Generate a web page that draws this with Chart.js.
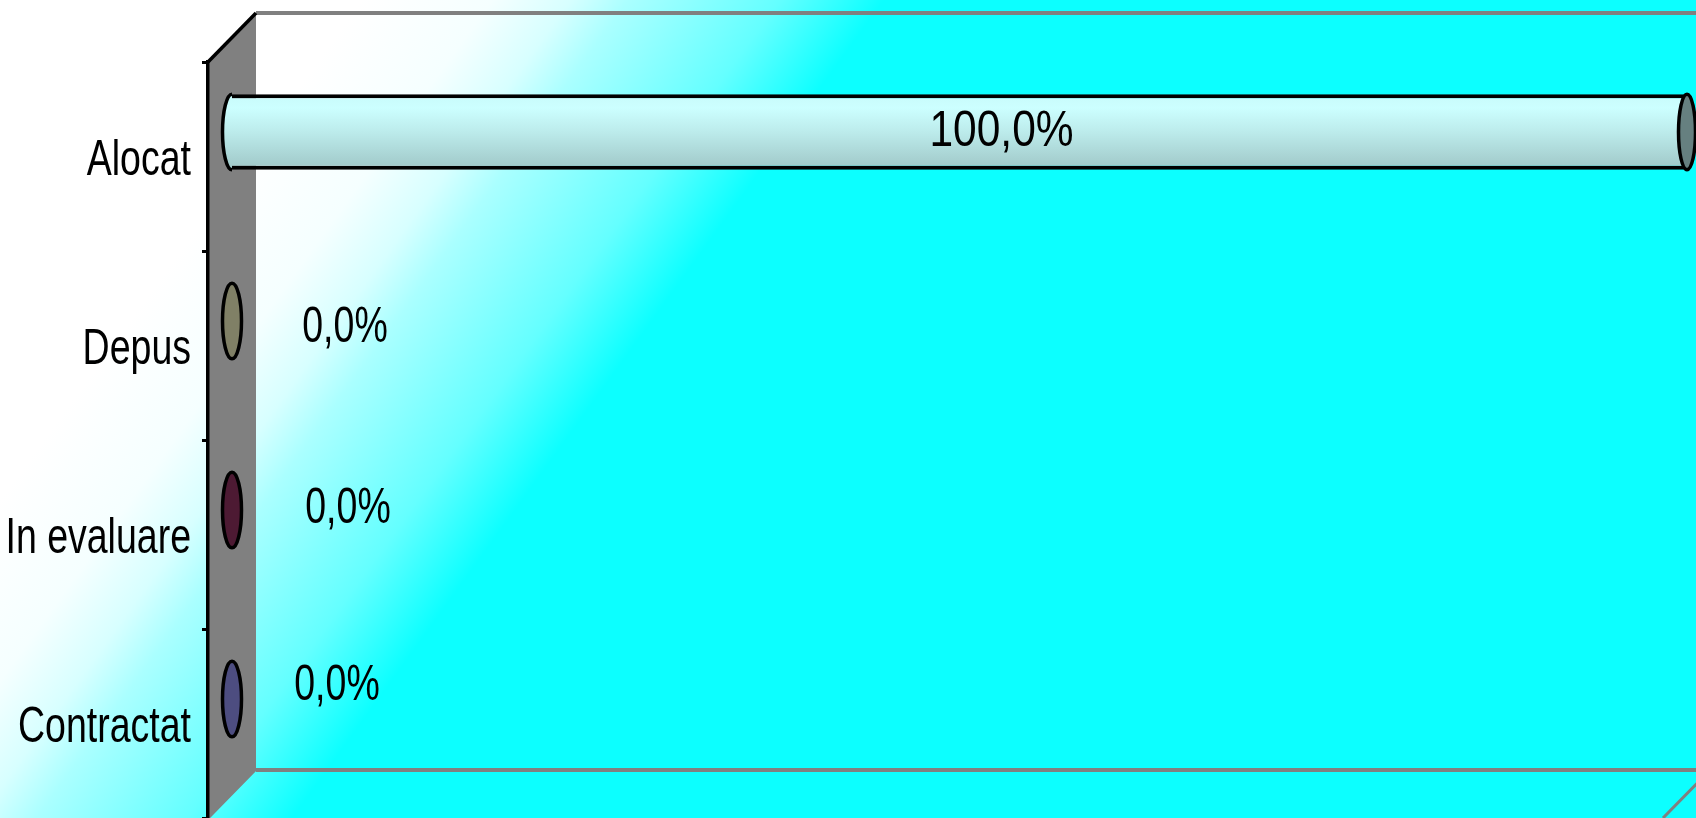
<!DOCTYPE html>
<html>
<head>
<meta charset="utf-8">
<script src="https://cdn.jsdelivr.net/npm/chart.js@4.4.1/dist/chart.umd.min.js"></script>
<style>
  html, body { margin: 0; padding: 0; background: #fff; }
  canvas { display: block; }
</style>
</head>
<body>
<canvas id="c" width="1696" height="818"></canvas>
<script>
// ---- data ----
const categories = ['Alocat', 'Depus', 'In evaluare', 'Contractat'];
const values = [100, 0, 0, 0];
const xMin = 0;
const xMax = 100;

// ---- style ----
const FONT = "'Liberation Sans', Arial, sans-serif";
const FONT_SIZE = 50;
const NARROW = 0.75;          // horizontal squeeze to mimic Arial Narrow
const NARROW_BIG = 0.85;
const bodyColors = ['#ccffff', '#ffffcc', '#993366', '#9999ff'];
const capColors = ['#668080', '#808066', '#4d1a33', '#4d4d80'];
const DEPTH_X = 48, DEPTH_Y = -49;       // 3D depth of the box
const MID_X = DEPTH_X / 2, MID_Y = DEPTH_Y / 2;
const TICK_LEN = 6, TICK_PAD = 11;
const TICK_LABEL_SHIFT = 5;
const labelNudgeY = [0, 7, -1, -13];
const labelNudgeX = [42, 113, 116, 105];

function fmt(v) { return v.toFixed(1).replace('.', ',') + '%'; }

function hexToRgb(h) {
  const n = parseInt(h.slice(1), 16);
  return [(n >> 16) & 255, (n >> 8) & 255, n & 255];
}
function shade(rgb, f) {
  return 'rgb(' + rgb.map(c => Math.round(Math.min(255, c * f))).join(',') + ')';
}

function bodyFill(c) {
  const i = c.dataIndex;
  if (i === undefined) return bodyColors[0];
  const ch = c.chart;
  const ys = ch.scales && ch.scales.y;
  if (!ys || !ch.chartArea) return bodyColors[i];
  const yc = ys.getPixelForValue(i);
  const h = (ys.height / categories.length) * 0.4 / 2;
  const rgb = hexToRgb(bodyColors[i]);
  const g = ch.ctx.createLinearGradient(0, yc - h, 0, yc + h);
  g.addColorStop(0, shade(rgb, 0.98));
  g.addColorStop(0.18, shade(rgb, 1.0));
  g.addColorStop(0.5, shade(rgb, 0.92));
  g.addColorStop(1, shade(rgb, 0.78));
  return g;
}

const boxPlugin = {
  id: 'box3d',
  afterLayout(chart) {
    const s = chart.scales.y;
    if (s && !s._narrowed) {
      const orig = s.drawLabels;
      s._computeLabelArea = function () { return undefined; };
      s.drawLabels = function (area) {
        const ctx = this.ctx;
        const ax = this.right - TICK_LEN - TICK_PAD;
        ctx.save();
        ctx.translate(ax, TICK_LABEL_SHIFT);
        ctx.scale(NARROW, 1);
        ctx.translate(-ax, 0);
        orig.call(this, area);
        ctx.restore();
      };
      s._narrowed = true;
    }
  },
  beforeDraw(chart) {
    const ctx = chart.ctx;
    const a = chart.chartArea;
    const W = chart.width, H = chart.height;
    ctx.save();
    // background gradient (white top-left -> cyan)
    const g = ctx.createLinearGradient(238, 171, 581, 419);
    g.addColorStop(0, '#ffffff');
    g.addColorStop(0.25, 'rgb(245,255,255)');
    g.addColorStop(0.40, 'rgb(215,255,255)');
    g.addColorStop(0.51, 'rgb(170,255,255)');
    g.addColorStop(0.80, 'rgb(100,255,255)');
    g.addColorStop(1, 'rgb(12,255,255)');
    ctx.fillStyle = g;
    ctx.fillRect(0, 0, W, H);

    const bl = a.left + DEPTH_X, bt = a.top + DEPTH_Y, br = a.right + DEPTH_X, bb = a.bottom + DEPTH_Y;
    // side wall
    ctx.fillStyle = '#808080';
    ctx.beginPath();
    ctx.moveTo(a.left, a.top);
    ctx.lineTo(bl, bt);
    ctx.lineTo(bl, bb);
    ctx.lineTo(a.left, a.bottom);
    ctx.closePath();
    ctx.fill();
    // back wall top edge & floor back edge
    ctx.strokeStyle = '#808080';
    ctx.lineWidth = 4;
    ctx.beginPath();
    ctx.moveTo(bl, bt); ctx.lineTo(br + 10, bt);
    ctx.moveTo(bl, bb + 1); ctx.lineTo(br + 10, bb + 1);
    ctx.stroke();
    // floor diagonals
    ctx.lineWidth = 3;
    ctx.beginPath();
    ctx.moveTo(bl, bb); ctx.lineTo(a.left, a.bottom);
    ctx.moveTo(br, bb); ctx.lineTo(a.right, a.bottom);
    ctx.stroke();
    // top-left black edge
    ctx.strokeStyle = '#000';
    ctx.lineWidth = 3.5;
    ctx.beginPath();
    ctx.moveTo(a.left, a.top); ctx.lineTo(bl, bt);
    ctx.stroke();
    ctx.restore();
  },
  beforeDatasetsDraw(chart) {
    chart.ctx.save();
    chart.ctx.translate(MID_X, MID_Y);
  },
  afterDatasetsDraw(chart) {
    const ctx = chart.ctx;
    const meta = chart.getDatasetMeta(0);
    meta.data.forEach((el, i) => {
      const p = el.getProps(['x', 'y', 'base', 'height'], true);
      const ry = p.height / 2;
      ctx.lineWidth = 3.5;
      ctx.strokeStyle = '#000';
      const long = Math.abs(p.x - p.base) > 2;
      if (long) {
        // left rounded end of the cylinder body
        ctx.beginPath();
        ctx.ellipse(p.base, p.y, 9.5, ry, 0, Math.PI / 2, Math.PI * 1.5);
        ctx.fillStyle = el.options.backgroundColor;
        ctx.fill();
        ctx.stroke();
        // right cap
        ctx.beginPath();
        ctx.ellipse(p.x, p.y, 8.5, ry, 0, 0, Math.PI * 2);
        ctx.fillStyle = capColors[i];
        ctx.fill();
        ctx.stroke();
      } else {
        ctx.beginPath();
        ctx.ellipse(p.base, p.y, 9.5, ry, 0, 0, Math.PI * 2);
        ctx.fillStyle = capColors[i];
        ctx.fill();
        ctx.stroke();
      }
      // data label
      const big = Math.abs(p.x - p.base) > 200;
      const lx = big ? (p.x + p.base) / 2 + labelNudgeX[i] : p.x + labelNudgeX[i];
      const ly = p.y + labelNudgeY[i];
      ctx.save();
      ctx.translate(lx, ly);
      ctx.scale(big ? NARROW_BIG : NARROW, 1);
      ctx.fillStyle = '#000';
      ctx.font = FONT_SIZE + 'px ' + FONT;
      ctx.textAlign = 'center';
      ctx.textBaseline = 'middle';
      ctx.fillText(fmt(values[i]), 0, 0);
      ctx.restore();
    });
    ctx.restore();
  }
};

new Chart(document.getElementById('c'), {
  type: 'bar',
  data: {
    labels: categories,
    datasets: [{
      data: values,
      backgroundColor: bodyFill,
      borderColor: '#000',
      borderWidth: { top: 4, bottom: 4, left: 0, right: 0 },
      borderSkipped: false,
      barPercentage: 0.4,
      categoryPercentage: 1,
      clip: false
    }]
  },
  options: {
    indexAxis: 'y',
    responsive: false,
    animation: false,
    devicePixelRatio: 1,
    layout: { padding: { top: 62, right: 33, bottom: 0, left: 0 } },
    plugins: { legend: { display: false }, tooltip: { enabled: false } },
    scales: {
      x: { min: xMin, max: xMax, display: false },
      y: {
        type: 'category',
        position: 'left',
        offset: true,
        afterFit(s) { s.width = 208; s.paddingTop = 0; s.paddingBottom = 0; },
        grid: { display: true, drawOnChartArea: false, drawTicks: true, tickLength: TICK_LEN, color: '#000', lineWidth: 3, offset: true },
        border: { display: true, color: '#000', width: 3.5 },
        ticks: { color: '#000', padding: TICK_PAD, font: { family: FONT, size: FONT_SIZE } }
      }
    }
  },
  plugins: [boxPlugin]
});
</script>
</body>
</html>
